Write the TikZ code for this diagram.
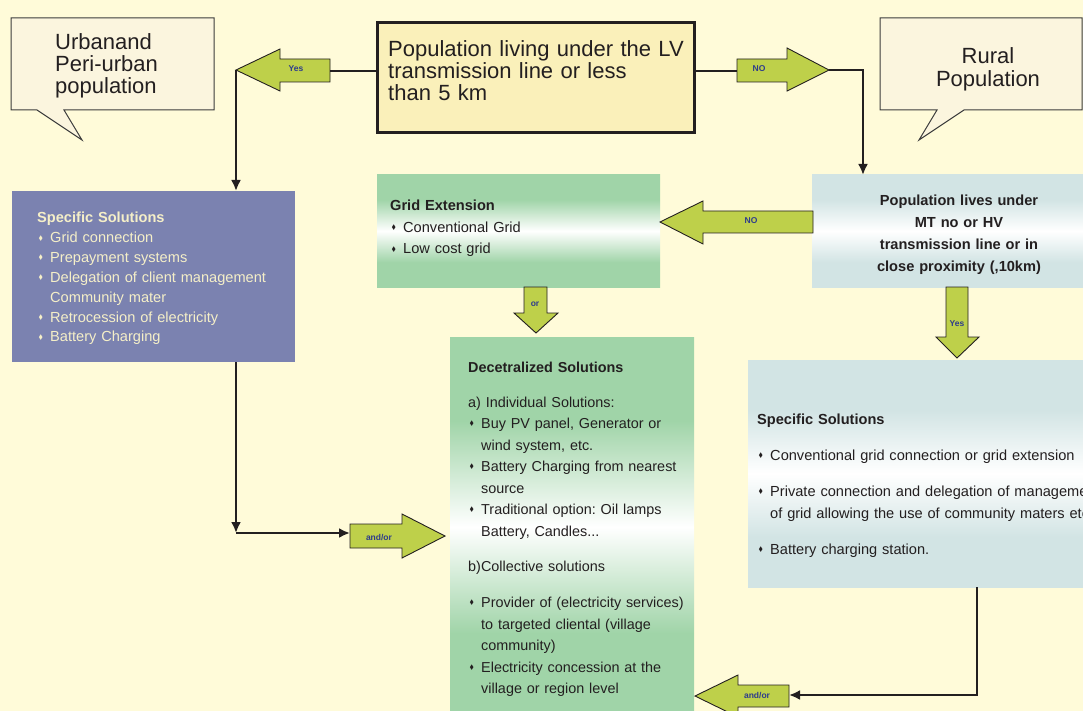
\documentclass[tikz,border=0pt]{standalone}
\usepackage{fontspec}
\setmainfont{Liberation Sans}
\usepackage{amssymb}
\usepackage{graphicx}
\usetikzlibrary{arrows.meta}
\frenchspacing
\definecolor{bg}{RGB}{255,251,217}
\definecolor{callfill}{RGB}{251,245,222}
\definecolor{topfill}{RGB}{250,240,186}
\definecolor{bluebox}{RGB}{123,130,176}
\definecolor{bluetext}{RGB}{245,239,200}
\definecolor{gA}{RGB}{160,212,168}
\definecolor{lA}{RGB}{210,228,228}
\definecolor{arrfill}{RGB}{190,208,74}
\definecolor{lblue}{RGB}{46,60,140}
\definecolor{ink}{RGB}{35,31,32}
\definecolor{calline}{RGB}{60,60,60}
\pgfdeclareverticalshading{greenband}{100bp}{color(0bp)=(gA); color(36bp)=(gA); color(50bp)=(white); color(64bp)=(gA); color(100bp)=(gA)}
\pgfdeclareverticalshading{blueband}{100bp}{color(0bp)=(lA); color(36bp)=(lA); color(50bp)=(white); color(64bp)=(lA); color(100bp)=(lA)}
\newcommand\bul{\makebox[13pt][l]{\hspace{1.5pt}\raisebox{2.7pt}{\scalebox{0.45}{$\blacklozenge$}}}}
\newcommand\bulind{\hspace*{13pt}}
\tikzset{
  box/.style={anchor=north west, inner sep=0, outer sep=0},
  garrow/.style={fill=arrfill, draw=ink, line width=0.9pt, line join=miter},
  conn/.style={draw=ink, line width=2.4pt},
  tipL/.style={-{Latex[length=11pt,width=10pt]}},
  lbl/.style={font=\fontsize{8.5}{10}\selectfont\bfseries, text=lblue, inner sep=0},
  body/.style={inner sep=0, anchor=base west, text width=360pt, align=left, text=ink, font=\fontsize{14.6}{21.5}\selectfont},
  big/.style={inner sep=0, anchor=base west, text width=330pt, align=left, text=ink, font=\fontsize{22}{22}\selectfont},
  callout/.style={fill=callfill, draw=calline, line width=1pt, line join=miter},
}
\begin{document}
\begin{tikzpicture}[x=1pt,y=-1pt]
\useasboundingbox (0,0) rectangle (1083,711);
\fill[bg] (0,0) rectangle (1083,711);

% callouts
\draw[callout] (11,18) -- (214,18) -- (214,110) -- (64,110) -- (82,140) -- (37,110) -- (11,110) -- cycle;
\node[big] (urbtxt) at (55,50) {Urbanand\\Peri-urban\\population};
\draw[callout] (880,18) -- (1082,18) -- (1082,110) -- (964,110) -- (919,140) -- (937,110) -- (880,110) -- cycle;
\node[inner sep=0, anchor=base, text width=200pt, align=center, text=ink, font=\fontsize{22}{23}\selectfont] (ruraltxt) at (988,64) {Rural\\Population};

% top box
\node[box, fill=topfill, draw=ink, line width=3pt, minimum width=317pt, minimum height=110pt] (top) at (377,23) {};
\node[big] (toptxt) at (388,57) {Population living under the LV\\transmission line or less\\than 5 km};

% boxes
\node[box, fill=bluebox, minimum width=283pt, minimum height=171pt] (blue) at (12,191) {};
\node[box, shading=greenband, minimum width=283pt, minimum height=112pt] (grid) at (377,175) {};
\node[box, shading=blueband, minimum width=280pt, minimum height=112pt] (rtop) at (812,175) {};
\node[box, shading=greenband, minimum width=244pt, minimum height=380pt] (dec) at (450,337) {};
\node[box, shading=blueband, minimum width=345pt, minimum height=227pt] (rspec) at (748,360) {};

% box texts
\node[body, text=bluetext, font=\fontsize{14.6}{19.8}\selectfont] (bluetxt) at (37,223)
  {\textbf{Specific Solutions}\\
   \bul Grid connection\\
   \bul Prepayment systems\\
   \bul Delegation of client management\\
   \bulind Community mater\\
   \bul Retrocession of electricity\\
   \bul Battery Charging};
\node[body] (gridtxt) at (390,211)
  {\textbf{Grid Extension}\\
   \bul Conventional Grid\\
   \bul Low cost grid};
\node[inner sep=0, anchor=base, text width=260pt, align=center, text=ink, font=\fontsize{14.6}{21.7}\selectfont\bfseries] (rtoptxt) at (959,206)
  {Population lives under\\MT no or HV\\transmission line or in\\close proximity (,10km)};
\node[body, font=\fontsize{14.4}{21.5}\selectfont] (dectxt) at (468,372)
  {\textbf{Decetralized Solutions}\\[13.5pt]
   a) Individual Solutions:\\
   \bul Buy PV panel, Generator or\\
   \bulind wind system, etc.\\
   \bul Battery Charging from nearest\\
   \bulind source\\
   \bul Traditional option: Oil lamps\\
   \bulind Battery, Candles...\\[13.5pt]
   b)Collective solutions\\[15pt]
   \bul Provider of (electricity services)\\
   \bulind to targeted cliental (village\\
   \bulind community)\\
   \bul Electricity concession at the\\
   \bulind village or region level};
\node[body] (rspectxt) at (757,424)
  {\textbf{Specific Solutions}\\[14.5pt]
   \bul Conventional grid connection or grid extension\\[15pt]
   \bul Private connection and delegation of management\\
   \bulind of grid allowing the use of community maters etc.\\[14.5pt]
   \bul Battery charging station.};

% green arrows
\draw[garrow] (330,59) -- (280,59) -- (280,49) -- (236,70) -- (280,91) -- (280,82) -- (330,82) -- cycle;
\node[lbl] (yes1) at (296,69) {Yes};
\draw[garrow] (737,59) -- (787,59) -- (787,48) -- (829,70) -- (787,91) -- (787,82) -- (737,82) -- cycle;
\node[lbl] (no1) at (759,69) {NO};
\draw[garrow] (813,211) -- (703,211) -- (703,201) -- (660,222) -- (703,244) -- (703,233) -- (813,233) -- cycle;
\node[lbl] (no2) at (751,221) {NO};
\draw[garrow] (524,287) -- (524,313) -- (514,313) -- (536,333) -- (558,313) -- (547,313) -- (547,287) -- cycle;
\node[lbl] (or) at (535,304) {or};
\draw[garrow] (946,287) -- (946,337) -- (936,337) -- (957,358) -- (979,337) -- (968,337) -- (968,287) -- cycle;
\node[lbl] (yes2) at (957,324) {Yes};
\draw[garrow] (350,524) -- (402,524) -- (402,514) -- (445,536) -- (402,558) -- (402,548) -- (350,548) -- cycle;
\node[lbl] (ando1) at (379,538) {and/or};
\draw[garrow] (789,685) -- (738,685) -- (738,675) -- (695,696) -- (738,717) -- (738,707) -- (789,707) -- cycle;
\node[lbl] (ando2) at (757,695) {and/or};

% connectors
\coordinate (yesTail) at (330,71);
\coordinate (yesTip) at (236,70);
\coordinate (noTail) at (737,71);
\coordinate (noTip) at (829,70);
\coordinate (noBend) at (863,70);
\coordinate (lcorner) at (236,533);
\coordinate (andTail) at (350,533);
\coordinate (rcorner) at (977,695);
\coordinate (and2Tail) at (789,695);
\draw[conn] (top.west |- yesTail) -- (yesTail);
\draw[conn] (top.east |- noTail) -- (noTail);
\draw[conn, tipL] (yesTip) -- (yesTip |- blue.north);
\draw[conn, tipL] (noTip) -- (noBend) -- (noBend |- rtop.north);
\draw[conn, tipL] (blue.south -| lcorner) -- (lcorner);
\draw[conn, tipL] (lcorner) -- (andTail);
\draw[conn, tipL] (rspec.south -| rcorner) -- (rcorner) -- (and2Tail);
\end{tikzpicture}
\end{document}
